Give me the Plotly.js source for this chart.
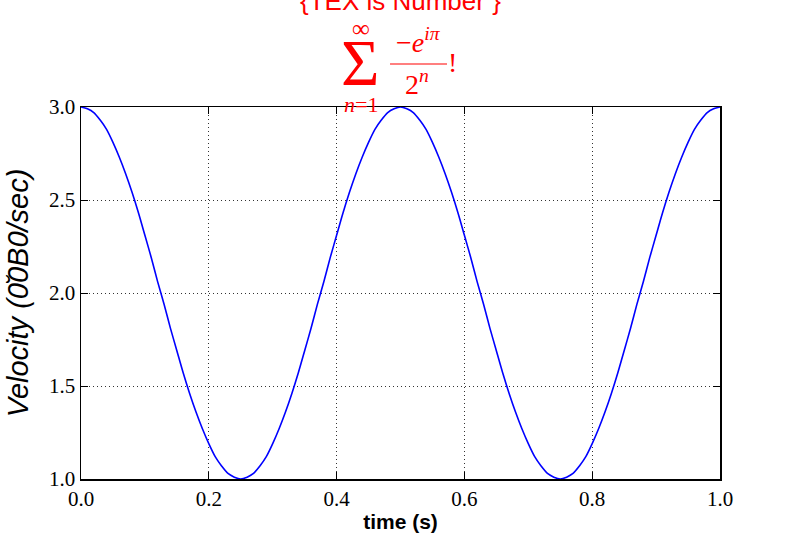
<!DOCTYPE html>
<html>
<head>
<meta charset="utf-8">
<script src="https://cdn.plot.ly/plotly-3.0.1.min.js"></script>
<style>
  html, body { margin: 0; padding: 0; background: #fff; }
  #chart { width: 800px; height: 533px; }
</style>
</head>
<body>
<div id="chart"></div>
<script>
// sample times (s)
const times = [
  0.00, 0.01, 0.02, 0.03, 0.04, 0.05, 0.06, 0.07, 0.08, 0.09,
  0.10, 0.11, 0.12, 0.13, 0.14, 0.15, 0.16, 0.17, 0.18, 0.19,
  0.20, 0.21, 0.22, 0.23, 0.24, 0.25, 0.26, 0.27, 0.28, 0.29,
  0.30, 0.31, 0.32, 0.33, 0.34, 0.35, 0.36, 0.37, 0.38, 0.39,
  0.40, 0.41, 0.42, 0.43, 0.44, 0.45, 0.46, 0.47, 0.48, 0.49,
  0.50, 0.51, 0.52, 0.53, 0.54, 0.55, 0.56, 0.57, 0.58, 0.59,
  0.60, 0.61, 0.62, 0.63, 0.64, 0.65, 0.66, 0.67, 0.68, 0.69,
  0.70, 0.71, 0.72, 0.73, 0.74, 0.75, 0.76, 0.77, 0.78, 0.79,
  0.80, 0.81, 0.82, 0.83, 0.84, 0.85, 0.86, 0.87, 0.88, 0.89,
  0.90, 0.91, 0.92, 0.93, 0.94, 0.95, 0.96, 0.97, 0.98, 0.99,
  1.00
];

// velocity read at each sample
const velocity = [
  3.00, 2.99, 2.97, 2.93, 2.88, 2.81, 2.73, 2.64, 2.54, 2.43,
  2.31, 2.19, 2.06, 1.94, 1.81, 1.69, 1.57, 1.46, 1.36, 1.27,
  1.19, 1.12, 1.07, 1.03, 1.01, 1.00, 1.01, 1.03, 1.07, 1.12,
  1.19, 1.27, 1.36, 1.46, 1.57, 1.69, 1.81, 1.94, 2.06, 2.19,
  2.31, 2.43, 2.54, 2.64, 2.73, 2.81, 2.88, 2.93, 2.97, 2.99,
  3.00, 2.99, 2.97, 2.93, 2.88, 2.81, 2.73, 2.64, 2.54, 2.43,
  2.31, 2.19, 2.06, 1.94, 1.81, 1.69, 1.57, 1.46, 1.36, 1.27,
  1.19, 1.12, 1.07, 1.03, 1.01, 1.00, 1.01, 1.03, 1.07, 1.12,
  1.19, 1.27, 1.36, 1.46, 1.57, 1.69, 1.81, 1.94, 2.06, 2.19,
  2.31, 2.43, 2.54, 2.64, 2.73, 2.81, 2.88, 2.93, 2.97, 2.99,
  3.00
];

const titleText = "{TEX is Number }";
const xTitle = "time (s)";
const yTitle = "Velocity (0\u03060B0/sec)";

const serif = "Liberation Serif, Times New Roman, serif";
const sans = "Liberation Sans, Arial, sans-serif";
const red = "#ff0000";

const trace = {
  type: "scatter",
  mode: "lines",
  x: times,
  y: velocity,
  line: { color: "#0000ff", width: 1.6, shape: "spline", smoothing: 0.8 },
  hoverinfo: "none"
};

// shared look of the classic boxed axes
function axisStyle() {
  return {
    showline: true,
    linecolor: "black",
    linewidth: 1.5,
    mirror: "ticks",
    ticks: "inside",
    ticklen: 7,
    tickwidth: 1,
    tickcolor: "black",
    showgrid: true,
    gridcolor: "#333",
    gridwidth: 1,
    griddash: "1px,3px",
    zeroline: false,
    tickformat: ".1f",
    tickfont: { family: serif, size: 21, color: "black" },
    automargin: false
  };
}

const xaxis = Object.assign(axisStyle(), {
  range: [0, 1],
  tick0: 0,
  dtick: 0.2,
  title: {
    text: xTitle,
    standoff: 9,
    font: { family: sans, size: 21, weight: "bold", color: "black" }
  }
});

const yaxis = Object.assign(axisStyle(), {
  range: [1, 3],
  tick0: 1,
  dtick: 0.5,
  title: {
    text: yTitle,
    standoff: 12,
    font: { family: sans, size: 29, style: "italic", color: "black" }
  }
});

function mathNote(text, x, y, size) {
  return {
    text: text,
    x: x,
    y: y,
    xref: "paper",
    yref: "paper",
    xanchor: "center",
    yanchor: "middle",
    showarrow: false,
    font: { family: serif, size: size, color: red }
  };
}

const layout = {
  width: 800,
  height: 533,
  margin: { l: 81, r: 80, t: 107, b: 54 },
  paper_bgcolor: "white",
  plot_bgcolor: "white",
  showlegend: false,
  xaxis: xaxis,
  yaxis: yaxis,
  annotations: [
    {
      text: titleText,
      x: 0.5,
      y: 1.285,
      xref: "paper",
      yref: "paper",
      xanchor: "center",
      yanchor: "middle",
      showarrow: false,
      font: { family: sans, size: 26, color: red }
    },
    mathNote("\u221E", 0.4382, 1.212, 25),
    mathNote("\u03A3", 0.4366, 1.12, 66),
    mathNote("<i>n</i>=1", 0.4382, 1.008, 22),
    mathNote("\u2212<i>e</i><sup><i>i\u03C0</i></sup>", 0.5274, 1.18, 28),
    mathNote("2<sup><i>n</i></sup>", 0.5266, 1.0672, 28),
    mathNote("!", 0.5814, 1.1183, 28)
  ],
  shapes: [
    {
      type: "line",
      xref: "paper",
      yref: "paper",
      x0: 0.4836,
      x1: 0.5728,
      y0: 1.1156,
      y1: 1.1156,
      line: { color: red, width: 1.2 }
    }
  ]
};

Plotly.newPlot("chart", [trace], layout, {
  displayModeBar: false,
  staticPlot: true
});
</script>
</body>
</html>
